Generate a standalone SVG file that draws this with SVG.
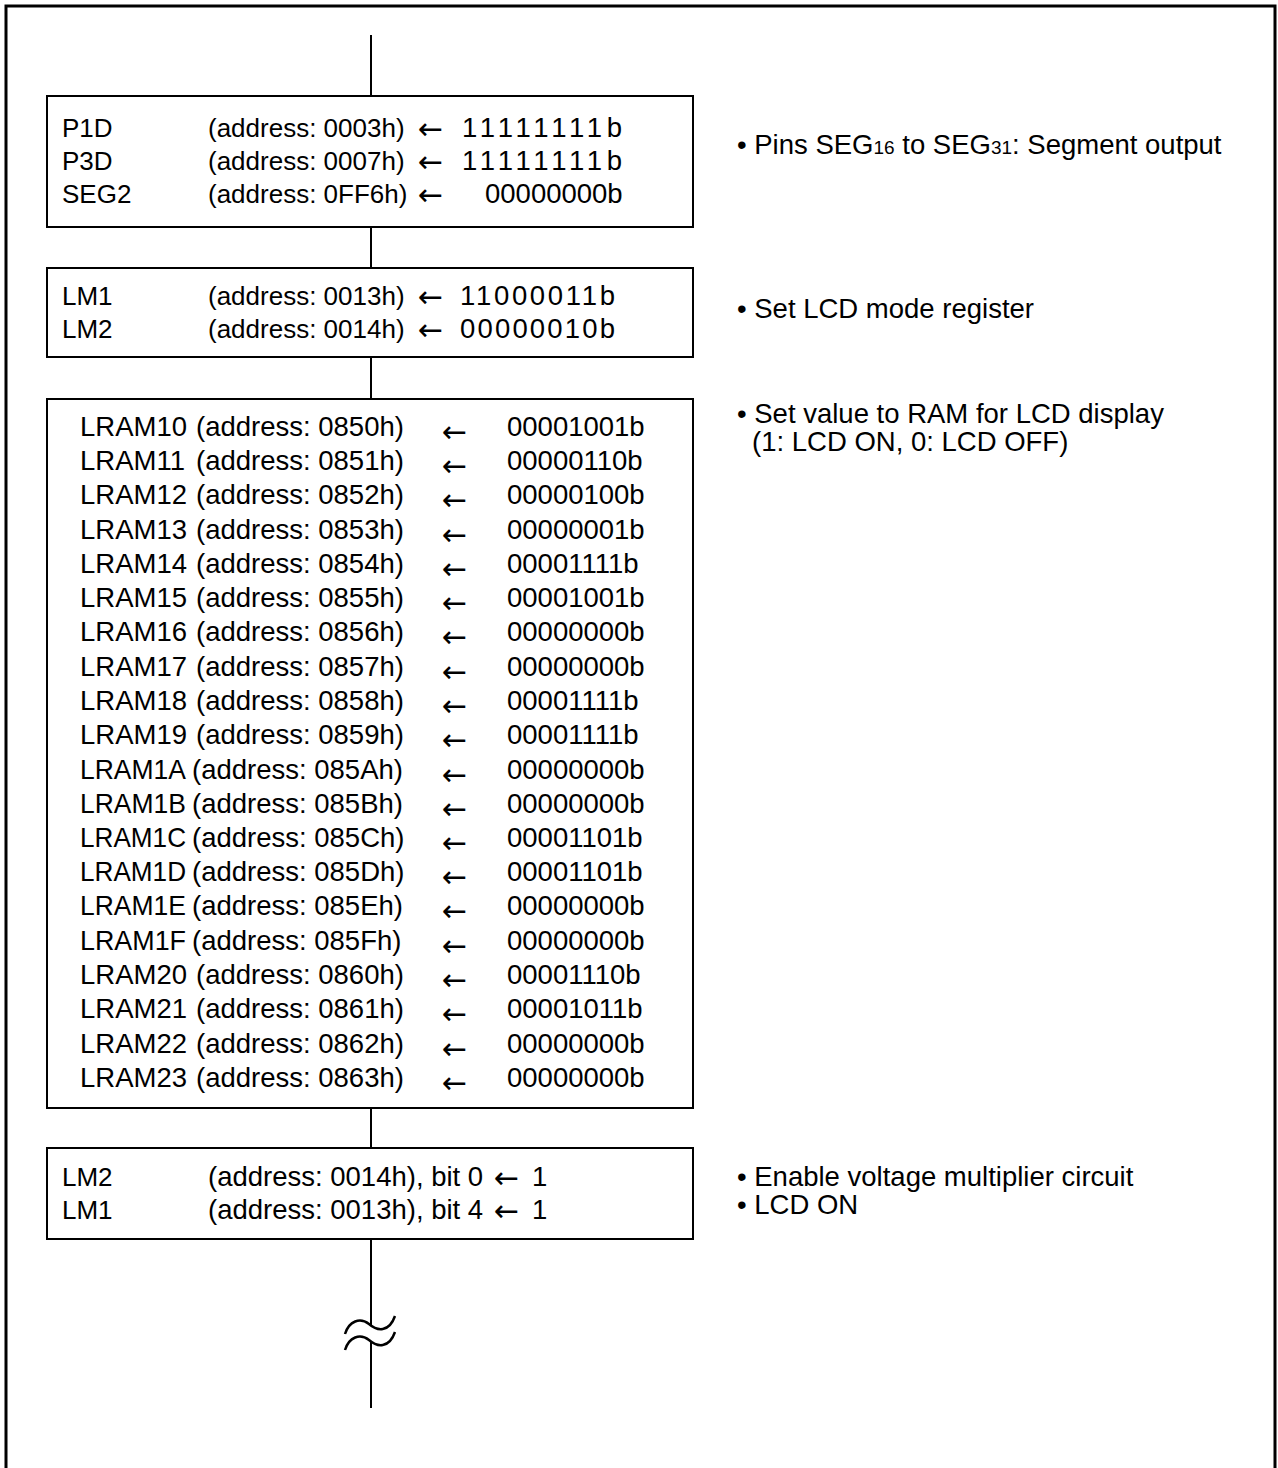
<svg xmlns="http://www.w3.org/2000/svg" width="1278" height="1468" viewBox="0 0 1278 1468">
<style>
text{font-family:"Liberation Sans",Arial,sans-serif;font-size:26px;fill:#000}
.b3{font-size:27.5px}
.nt{font-size:27.5px}
.sub{font-size:19px}
.ar{font-family:"DejaVu Sans",sans-serif;font-size:30px}
.box{fill:#fff;stroke:#000;stroke-width:2}
.ln{fill:none;stroke:#000;stroke-width:2}
.brk{fill:none;stroke:#000;stroke-width:2.5}
</style>
<rect width="1278" height="1468" fill="#fff"/>
<path d="M6,1468 V6 H1275 V1468" fill="none" stroke="#000" stroke-width="3"/>
<g id="connectors">
<line class="ln" x1="371" y1="35" x2="371" y2="96"/>
<line class="ln" x1="371" y1="227" x2="371" y2="268"/>
<line class="ln" x1="371" y1="357" x2="371" y2="399"/>
<line class="ln" x1="371" y1="1108" x2="371" y2="1148"/>
<line class="ln" x1="371" y1="1239" x2="371" y2="1326"/>
<line class="ln" x1="371" y1="1341" x2="371" y2="1408"/>
<path class="brk" d="M345,1334 C349,1321 360,1317 369,1324 C377,1331 389,1333 395,1316"/>
<path class="brk" d="M345,1350 C349,1337 360,1333 369,1340 C377,1347 389,1349 395,1332"/>
</g>
<g id="box1">
<rect class="box" x="47" y="96" width="646" height="131"/>
<text x="62" y="137">P1D</text><text x="208" y="137">(address: 0003h)</text><text class="ar" x="418" y="139">←</text><text class="b3" x="462" y="137" textLength="160" lengthAdjust="spacing">11111111b</text>
<text x="62" y="170">P3D</text><text x="208" y="170">(address: 0007h)</text><text class="ar" x="418" y="172">←</text><text class="b3" x="462" y="170" textLength="160" lengthAdjust="spacing">11111111b</text>
<text x="62" y="203">SEG2</text><text x="208" y="203">(address: 0FF6h)</text><text class="ar" x="418" y="205">←</text><text class="b3" x="485" y="203">00000000b</text>
</g>
<g id="note1"><text class="nt" x="737" y="154">• Pins SEG<tspan class="sub">16</tspan> to SEG<tspan class="sub">31</tspan>: Segment output</text></g>
<g id="box2">
<rect class="box" x="47" y="268" width="646" height="89"/>
<text x="62" y="305">LM1</text><text x="208" y="305">(address: 0013h)</text><text class="ar" x="418" y="307">←</text><text class="b3" x="460" y="305" textLength="155" lengthAdjust="spacing">11000011b</text>
<text x="62" y="338">LM2</text><text x="208" y="338">(address: 0014h)</text><text class="ar" x="418" y="340">←</text><text class="b3" x="460" y="338" textLength="155" lengthAdjust="spacing">00000010b</text>
</g>
<g id="note2"><text class="nt" x="737" y="318">• Set LCD mode register</text></g>
<g id="box3">
<rect class="box" x="47" y="399" width="646" height="709"/>
<g class="b3">
<text class="b3" x="80" y="436">LRAM10</text><text class="b3" x="196" y="436">(address: 0850h)</text><text class="ar" x="442" y="442">←</text><text class="b3" x="507" y="436">00001001b</text>
<text class="b3" x="80" y="470">LRAM11</text><text class="b3" x="196" y="470">(address: 0851h)</text><text class="ar" x="442" y="476">←</text><text class="b3" x="507" y="470">00000110b</text>
<text class="b3" x="80" y="504">LRAM12</text><text class="b3" x="196" y="504">(address: 0852h)</text><text class="ar" x="442" y="510">←</text><text class="b3" x="507" y="504">00000100b</text>
<text class="b3" x="80" y="539">LRAM13</text><text class="b3" x="196" y="539">(address: 0853h)</text><text class="ar" x="442" y="545">←</text><text class="b3" x="507" y="539">00000001b</text>
<text class="b3" x="80" y="573">LRAM14</text><text class="b3" x="196" y="573">(address: 0854h)</text><text class="ar" x="442" y="579">←</text><text class="b3" x="507" y="573">00001111b</text>
<text class="b3" x="80" y="607">LRAM15</text><text class="b3" x="196" y="607">(address: 0855h)</text><text class="ar" x="442" y="613">←</text><text class="b3" x="507" y="607">00001001b</text>
<text class="b3" x="80" y="641">LRAM16</text><text class="b3" x="196" y="641">(address: 0856h)</text><text class="ar" x="442" y="647">←</text><text class="b3" x="507" y="641">00000000b</text>
<text class="b3" x="80" y="676">LRAM17</text><text class="b3" x="196" y="676">(address: 0857h)</text><text class="ar" x="442" y="682">←</text><text class="b3" x="507" y="676">00000000b</text>
<text class="b3" x="80" y="710">LRAM18</text><text class="b3" x="196" y="710">(address: 0858h)</text><text class="ar" x="442" y="716">←</text><text class="b3" x="507" y="710">00001111b</text>
<text class="b3" x="80" y="744">LRAM19</text><text class="b3" x="196" y="744">(address: 0859h)</text><text class="ar" x="442" y="750">←</text><text class="b3" x="507" y="744">00001111b</text>
<text class="b3" x="80" y="779" textLength="106" lengthAdjust="spacingAndGlyphs">LRAM1A</text><text class="b3" x="192" y="779">(address: 085Ah)</text><text class="ar" x="442" y="785">←</text><text class="b3" x="507" y="779">00000000b</text>
<text class="b3" x="80" y="813" textLength="106" lengthAdjust="spacingAndGlyphs">LRAM1B</text><text class="b3" x="192" y="813">(address: 085Bh)</text><text class="ar" x="442" y="819">←</text><text class="b3" x="507" y="813">00000000b</text>
<text class="b3" x="80" y="847" textLength="106" lengthAdjust="spacingAndGlyphs">LRAM1C</text><text class="b3" x="192" y="847">(address: 085Ch)</text><text class="ar" x="442" y="853">←</text><text class="b3" x="507" y="847">00001101b</text>
<text class="b3" x="80" y="881" textLength="106" lengthAdjust="spacingAndGlyphs">LRAM1D</text><text class="b3" x="192" y="881">(address: 085Dh)</text><text class="ar" x="442" y="887">←</text><text class="b3" x="507" y="881">00001101b</text>
<text class="b3" x="80" y="915" textLength="106" lengthAdjust="spacingAndGlyphs">LRAM1E</text><text class="b3" x="192" y="915">(address: 085Eh)</text><text class="ar" x="442" y="921">←</text><text class="b3" x="507" y="915">00000000b</text>
<text class="b3" x="80" y="950" textLength="106" lengthAdjust="spacingAndGlyphs">LRAM1F</text><text class="b3" x="192" y="950">(address: 085Fh)</text><text class="ar" x="442" y="956">←</text><text class="b3" x="507" y="950">00000000b</text>
<text class="b3" x="80" y="984">LRAM20</text><text class="b3" x="196" y="984">(address: 0860h)</text><text class="ar" x="442" y="990">←</text><text class="b3" x="507" y="984">00001110b</text>
<text class="b3" x="80" y="1018">LRAM21</text><text class="b3" x="196" y="1018">(address: 0861h)</text><text class="ar" x="442" y="1024">←</text><text class="b3" x="507" y="1018">00001011b</text>
<text class="b3" x="80" y="1053">LRAM22</text><text class="b3" x="196" y="1053">(address: 0862h)</text><text class="ar" x="442" y="1059">←</text><text class="b3" x="507" y="1053">00000000b</text>
<text class="b3" x="80" y="1087">LRAM23</text><text class="b3" x="196" y="1087">(address: 0863h)</text><text class="ar" x="442" y="1093">←</text><text class="b3" x="507" y="1087">00000000b</text>
</g>
</g>
<g id="note3"><text class="nt" x="737" y="423">• Set value to RAM for LCD display</text><text class="nt" x="752" y="451">(1: LCD ON, 0: LCD OFF)</text></g>
<g id="box4">
<rect class="box" x="47" y="1148" width="646" height="91"/>
<text x="62" y="1186">LM2</text><text class="b3" x="208" y="1186">(address: 0014h), bit 0</text><text class="ar" x="494" y="1188">←</text><text class="b3" x="532" y="1186">1</text>
<text x="62" y="1219">LM1</text><text class="b3" x="208" y="1219">(address: 0013h), bit 4</text><text class="ar" x="494" y="1221">←</text><text class="b3" x="532" y="1219">1</text>
</g>
<g id="note4"><text class="nt" x="737" y="1186">• Enable voltage multiplier circuit</text><text class="nt" x="737" y="1214">• LCD ON</text></g>
</svg>
